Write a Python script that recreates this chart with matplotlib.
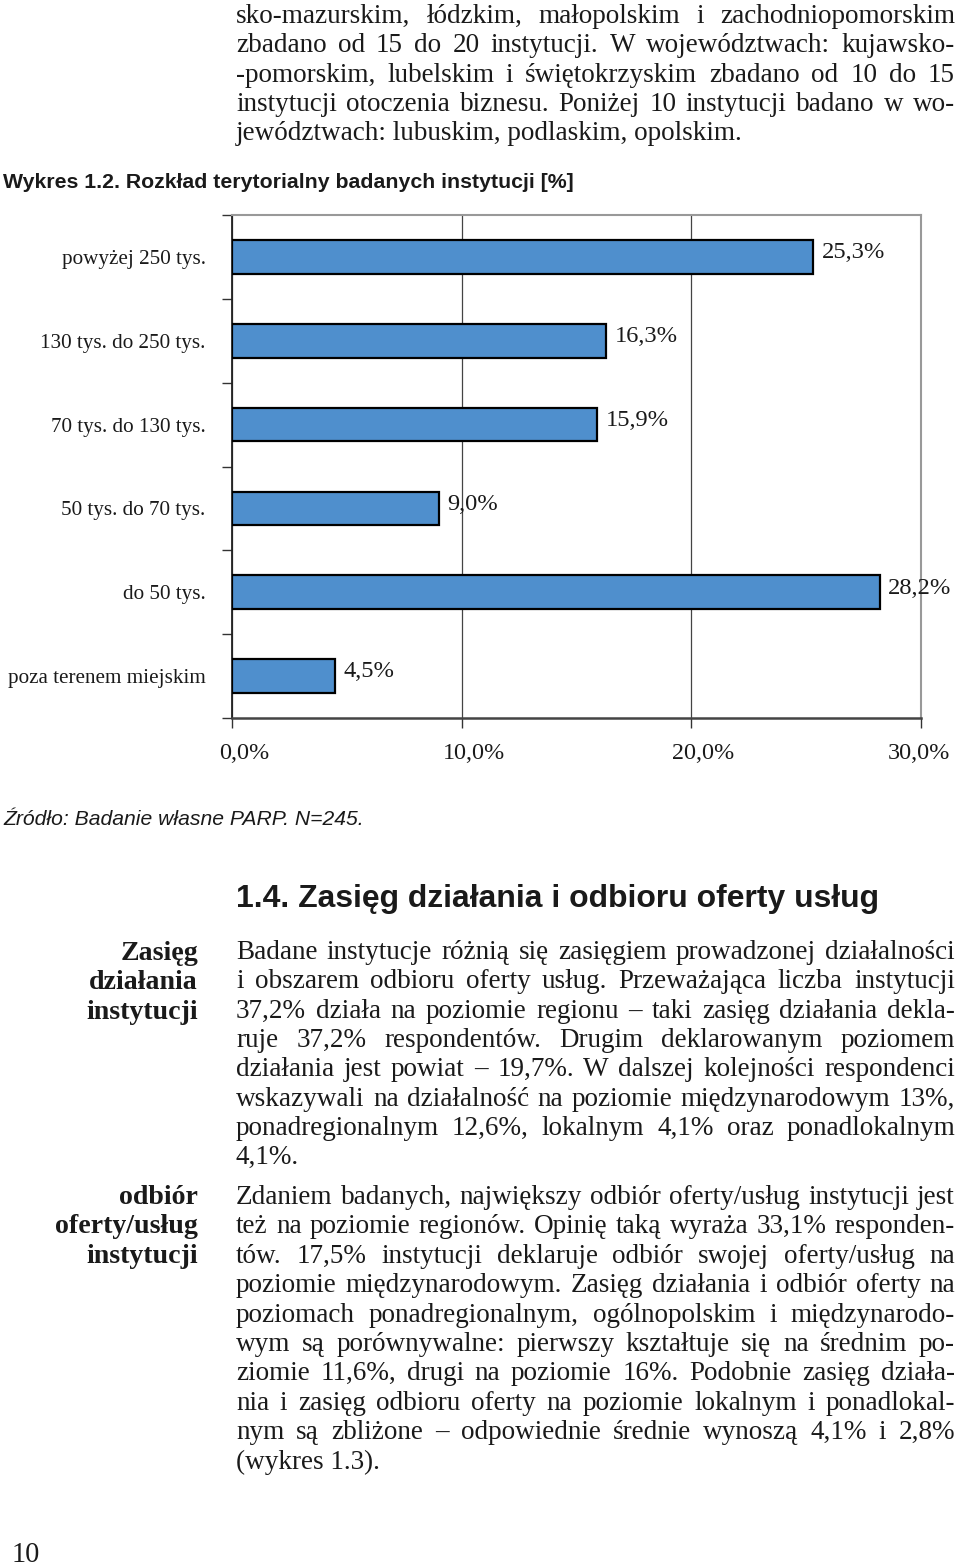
import matplotlib
matplotlib.use('Agg')
import matplotlib.pyplot as plt
from matplotlib import font_manager as fm
from matplotlib.transforms import ScaledTranslation
import numpy as np

W, H, DPI = 960, 1565, 100

# ---------------- data ----------------
categories = ["powyżej 250 tys.", "130 tys. do 250 tys.", "70 tys. do 130 tys.",
              "50 tys. do 70 tys.", "do 50 tys.", "poza terenem miejskim"]
values = [25.3, 16.3, 15.9, 9.0, 28.2, 4.5]
xticks = [0, 10, 20, 30]
xtick_labels = ["0,0%", "10,0%", "20,0%", "30,0%"]

intro_lines = [
    "sko-mazurskim, łódzkim, małopolskim i zachodniopomorskim",
    "zbadano od 15 do 20 instytucji. W województwach: kujawsko-",
    "-pomorskim, lubelskim i świętokrzyskim zbadano od 10 do 15",
    "instytucji otoczenia biznesu. Poniżej 10 instytucji badano w wo-",
    "jewództwach: lubuskim, podlaskim, opolskim.",
]
chart_title = "Wykres 1.2. Rozkład terytorialny badanych instytucji [%]"
source_text = "Źródło: Badanie własne PARP. N=245."
section_title = "1.4. Zasięg działania i odbioru oferty usług"
side1 = ["Zasięg", "działania", "instytucji"]
side2 = ["odbiór", "oferty/usług", "instytucji"]
para1_lines = [
    "Badane instytucje różnią się zasięgiem prowadzonej działalności",
    "i obszarem odbioru oferty usług. Przeważająca liczba instytucji",
    "37,2%  działa na poziomie regionu – taki zasięg  działania dekla-",
    "ruje  37,2% respondentów. Drugim deklarowanym poziomem",
    "działania jest powiat – 19,7%. W dalszej kolejności respondenci",
    "wskazywali na działalność na poziomie międzynarodowym 13%,",
    "ponadregionalnym 12,6%, lokalnym 4,1% oraz ponadlokalnym",
    "4,1%.",
]
para2_lines = [
    "Zdaniem badanych, największy odbiór oferty/usług instytucji jest",
    "też na poziomie regionów. Opinię taką wyraża 33,1% responden-",
    "tów. 17,5% instytucji deklaruje odbiór swojej oferty/usług na",
    "poziomie międzynarodowym. Zasięg działania i odbiór oferty na",
    "poziomach ponadregionalnym, ogólnopolskim i międzynarodo-",
    "wym są porównywalne: pierwszy kształtuje się na średnim po-",
    "ziomie 11,6%, drugi na poziomie 16%. Podobnie zasięg działa-",
    "nia i zasięg odbioru oferty na poziomie lokalnym i ponadlokal-",
    "nym są zbliżone – odpowiednie średnie wynoszą 4,1% i 2,8%",
    "(wykres 1.3).",
]
page_number = "10"

# ---------------- fonts ----------------
names = {f.name for f in fm.fontManager.ttflist}
SERIF = 'Liberation Serif' if 'Liberation Serif' in names else 'DejaVu Serif'
NARROW = 'Liberation Sans Narrow' if 'Liberation Sans Narrow' in names else 'Liberation Sans'

fig = plt.figure(figsize=(W / DPI, H / DPI), dpi=DPI)
fig.patch.set_facecolor('white')
renderer = fig.canvas.get_renderer()


def fx(x):
    return x / W


def fy(y):
    return 1 - y / H


def measure(s, size=10, **kw):
    t = fig.text(0, 0, s, fontsize=size, **kw)
    w = t.get_window_extent(renderer).width
    t.remove()
    return w


def fit(s, width, **kw):
    return 10 * width / measure(s, 10, **kw)


def text_px(x, y, s, **kw):
    return fig.text(fx(x), fy(y), s, **kw)


def justified(lines, x0, x1, y0, dy, size, family, color='#1a1a1a'):
    n = len(lines)
    for i, line in enumerate(lines):
        y = y0 + i * dy
        if i == n - 1:
            text_px(x0, y, line, fontsize=size, family=family, va='baseline',
                    ha='left', color=color)
            continue
        words = line.split()
        ws = [measure(w_, size, family=family) for w_ in words]
        gap = (x1 - x0 - sum(ws)) / max(len(words) - 1, 1)
        x = x0
        for w_, wd in zip(words, ws):
            text_px(x, y, w_, fontsize=size, family=family, va='baseline',
                    ha='left', color=color)
            x += wd + gap


# body font size common to all paragraphs
X0, X1 = 236, 955
just_lines = intro_lines[:-1] + para1_lines[:-1] + para2_lines[:-1]
maxw = max(measure(l.replace('  ', ' '), 10, family=SERIF) for l in just_lines)
body_size = min(22, 10 * 0.99 * (X1 - X0) / maxw)

justified(intro_lines, X0, X1, 23, 29.3, body_size, SERIF)
justified(para1_lines, X0, X1, 959, 29.3, body_size, SERIF)
justified(para2_lines, X0, X1, 1204, 29.4, body_size, SERIF)

# headings
ts = fit(chart_title, 569, family=NARROW, weight='bold')
text_px(3, 188, chart_title, fontsize=ts, family=NARROW, weight='bold',
        va='baseline', color='#1a1a1a')
ss = fit(source_text, 362, family=NARROW, style='italic')
text_px(3, 825, source_text, fontsize=ss, family=NARROW, style='italic',
        va='baseline', color='#1a1a1a')
hs = fit(section_title, 644, family=NARROW, weight='bold')
text_px(236, 907, section_title, fontsize=hs, family=NARROW, weight='bold',
        va='baseline', color='#1a1a1a')

# side headers
side_size = fit("oferty/usług", 143, family=SERIF, weight='bold')
for i, s in enumerate(side1):
    text_px(198, 960 + i * 29.3, s, fontsize=side_size, family=SERIF, weight='bold',
            ha='right', va='baseline', color='#1a1a1a')
for i, s in enumerate(side2):
    text_px(198, 1204 + i * 29.4, s, fontsize=side_size, family=SERIF, weight='bold',
            ha='right', va='baseline', color='#1a1a1a')

text_px(12, 1562, page_number, fontsize=body_size * 1.05, family=SERIF,
        va='baseline', color='#1a1a1a')

# ---------------- chart ----------------
L, R, T, B = 232, 921, 215, 718
ax = fig.add_axes([fx(L), fy(B), (R - L) / W, (B - T) / H])
y = np.arange(len(categories))
ax.barh(y, values, height=0.4, color='#4f8fcd', edgecolor='black', linewidth=1.6,
        zorder=3)
ax.set_xlim(0, 30)
ax.set_ylim(len(categories) - 0.5, -0.5)

lab_size = fit("poza terenem miejskim", 197, family=SERIF)
val_size = fit("25,3%", 63, family=SERIF)
tick_size = fit("10,0%", 62, family=SERIF)

for i, v in enumerate(values):
    lab = f"{v:.1f}%".replace('.', ',')
    ax.annotate(lab, xy=(v, i), xytext=(6, 3), textcoords='offset points',
                ha='left', va='center', fontsize=val_size, family=SERIF,
                color='#1a1a1a', zorder=4, annotation_clip=False)

ax.set_yticks(y)
ax.set_yticklabels(categories, fontsize=lab_size, family=SERIF, color='#1a1a1a')
ax.set_yticks(np.arange(-0.5, len(categories), 1), minor=True)
ax.tick_params(axis='y', which='major', length=0, pad=19)
ax.tick_params(axis='y', which='minor', length=7, width=1.0, color='#333333',
               direction='out')

ax.set_xticks(xticks)
ax.set_xticklabels(xtick_labels, fontsize=tick_size, family=SERIF, color='#1a1a1a')
ax.tick_params(axis='x', length=7, width=1.0, color='#333333', direction='out', pad=11)
shifts = [12, 12, 12, -2]
for lbl, dx in zip(ax.get_xticklabels(), shifts):
    lbl.set_transform(lbl.get_transform() + ScaledTranslation(dx / DPI, 0, fig.dpi_scale_trans))

ax.xaxis.grid(True, color='#444444', linewidth=0.9, zorder=0)
ax.set_axisbelow(True)
ax.spines['left'].set_color('#222222')
ax.spines['left'].set_linewidth(1.3)
ax.spines['bottom'].set_color('#444444')
ax.spines['bottom'].set_linewidth(1.8)
ax.spines['top'].set_color('#999999')
ax.spines['top'].set_linewidth(1.5)
ax.spines['right'].set_color('#999999')
ax.spines['right'].set_linewidth(1.5)

fig.savefig('out.png', dpi=DPI, facecolor='white')
